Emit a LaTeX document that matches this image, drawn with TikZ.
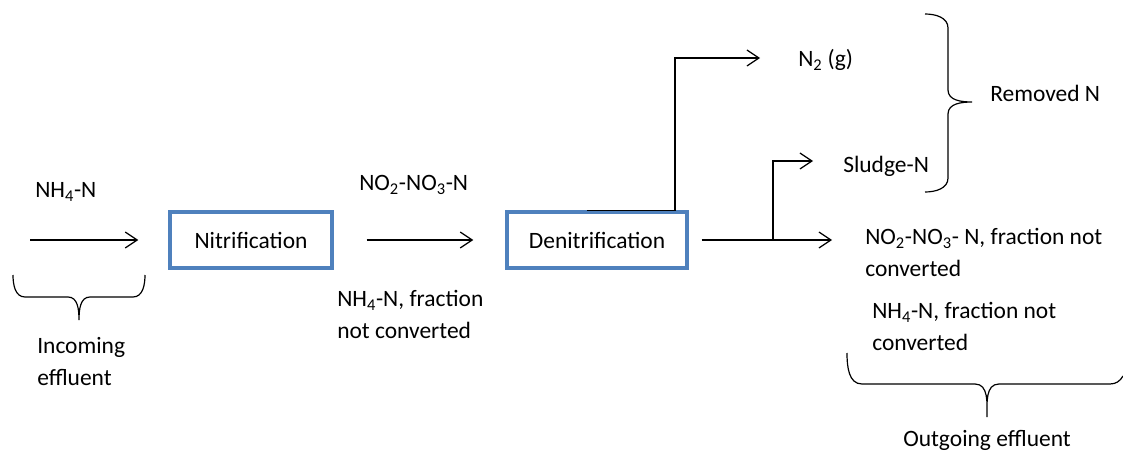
\documentclass[tikz,border=0pt]{standalone}
\usepackage{fontspec}
\setmainfont{Carlito}
\usepackage{tikz}
\usetikzlibrary{arrows.meta}
\definecolor{boxblue}{HTML}{4F81BD}
\tikzset{
  flow/.style={-{Straight Barb[length=9pt,width=12pt]},line width=0.9pt},
  procbox/.style={draw=boxblue,line width=2.6pt,minimum height=42pt,inner sep=0pt},
  txt/.style={anchor=base west,inner sep=0pt,align=left},
  brace/.style={line width=0.9pt}
}

\begin{document}
\begin{tikzpicture}[x=0.75pt,y=-0.75pt,font=\fontsize{17.6}{23.5}\selectfont]
\useasboundingbox (0,0) rectangle (1123,452);
% process boxes
\node[procbox,minimum width=121.5pt] (nit) at (251,240) {Nitrification\hspace{8pt}};
\node[procbox,minimum width=135pt] (den) at (597,240) {Denitrification\hspace{3pt}};
% labels
\node[txt] (nhin) at (35,198) {NH\textsubscript{4}-N};
\node[txt] (inc) at (37,385) {Incoming\\effluent};
\node[txt] (nono) at (359,191) {NO\textsubscript{2}-NO\textsubscript{3}-N};
\node[txt] (nhrest) at (337,338) {NH\textsubscript{4}-N, fraction\\not converted};
\node[txt] (n2) at (798,67) {N\textsubscript{2} (g)};
\node[txt] (sludge) at (843,173) {Sludge-N};
\node[txt] (remN) at (990,102) {Removed N};
\node[txt] (noout) at (865,276) {NO\textsubscript{2}-NO\textsubscript{3}- N, fraction not\\converted};
\node[txt] (nhout) at (872,350) {NH\textsubscript{4}-N, fraction not\\converted};
\node[txt] (outeff) at (903,446) {Outgoing effluent};
% flow arrows
\coordinate (inA) at (30,240);
\coordinate (n2tip) at (760,58);
\coordinate (brj) at (773,240);
\coordinate (sltip) at (813,161);
\coordinate (outtip) at (832,240);
\draw[flow,shorten >=22.5pt] (inA) -- (nit.west);
\draw[flow,shorten <=24.75pt,shorten >=24pt] (nit.east) -- (den.west);
\draw[flow] ([xshift=-7.5pt]den.north) -- ++(88,0) |- (n2tip);
\draw[flow,shorten <=9.75pt] (den.east) -- (outtip);
\draw[flow] (brj) |- (sltip);
% braces
\draw[brace] (13,275) to[out=-90,in=180] (25,297) -- (68,297) to[out=0,in=90] (79,320)
  to[out=90,in=180] (90,297) -- (133,297) to[out=0,in=-90] (145,275);
\draw[brace] (925,14) to[out=0,in=90] (948,28) -- (948,90) to[out=-90,in=180] (972,102)
  to[out=180,in=90] (948,114) -- (948,178) to[out=-90,in=0] (925,192);
\draw[brace] (847,353) to[out=-90,in=180] (862,384) -- (975,384) to[out=0,in=90] (987,417)
  to[out=90,in=180] (999,384) -- (1110,384) to[out=0,in=-120] (1123,376);
\end{tikzpicture}
\end{document}
